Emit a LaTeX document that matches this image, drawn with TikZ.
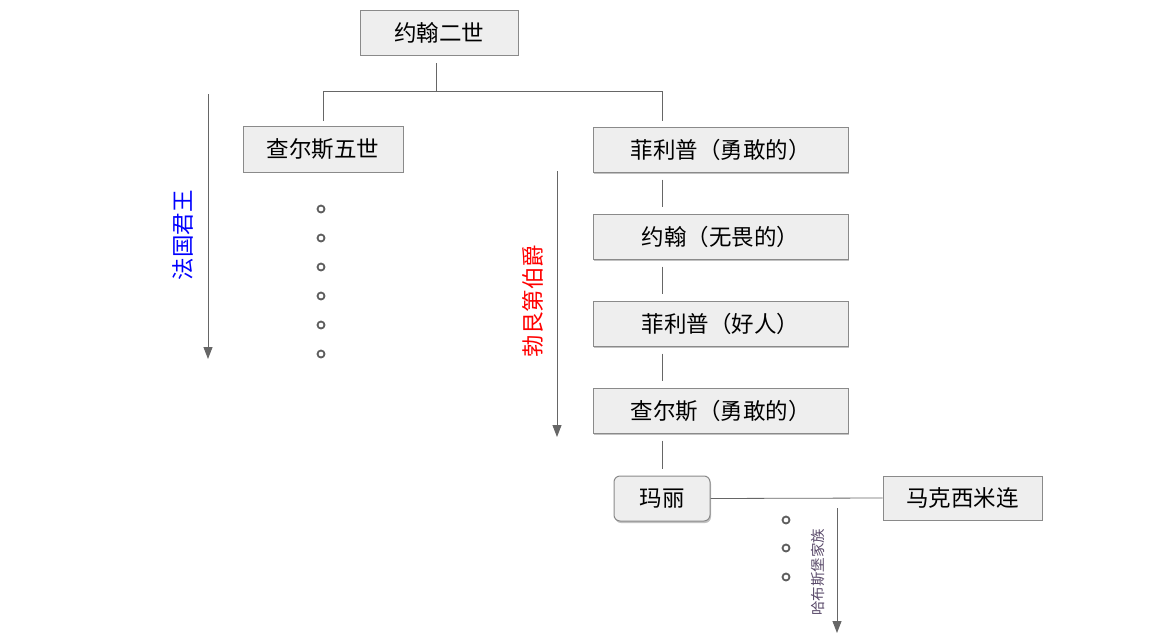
\documentclass[tikz,border=0pt]{standalone}
\usepackage{fontspec}
\setmainfont{Noto Sans CJK SC}
\usetikzlibrary{shadows,arrows.meta}
\definecolor{boxfill}{HTML}{EEEEEE}
\definecolor{boxline}{HTML}{8A8A8A}
\definecolor{linec}{HTML}{666666}
\definecolor{dotc}{HTML}{5E5E5E}
\definecolor{habsc}{HTML}{5A4A6A}
\tikzset{
  pbox/.style={draw=boxline, line width=1pt, fill=boxfill, minimum height=45pt, inner sep=0pt, font=\fontsize{22.5}{26}\selectfont},
  shbox/.style={pbox, drop shadow={shadow xshift=1pt, shadow yshift=-2pt, opacity=0.4, fill=black!60}},
  conn/.style={draw=linec, line width=0.8pt},
  timearrow/.style={draw=linec, line width=1pt, -{Triangle[length=12pt,width=9pt]}},
  dot/.style={circle, draw=dotc, line width=1.8pt, minimum size=7pt, inner sep=0pt},
}
\begin{document}
\begin{tikzpicture}[x=1pt,y=-1pt]
\useasboundingbox (0,0) rectangle (1152,640);

\node[pbox, minimum width=158pt] (john2) at (439,33) {约翰二世};
\node[pbox, minimum width=160pt, minimum height=46pt] (charles5) at (323,149) {查尔斯五世};
\node[shbox, minimum width=255pt] (phil1) at (720.5,149.5) {菲利普（勇敢的）};
\node[shbox, minimum width=255pt] (john) at (720.5,236.5) {约翰（无畏的）};
\node[shbox, minimum width=255pt] (phil2) at (720.5,323.5) {菲利普（好人）};
\node[shbox, minimum width=255pt] (charles) at (720.5,410.5) {查尔斯（勇敢的）};
\node[shbox, rounded corners=6pt, minimum width=96pt] (mary) at (662,498.5) {玛丽};
\node[pbox, minimum width=159pt, minimum height=44pt] (max) at (962.5,498) {马克西米连};

% tree connector from John II
\coordinate (j0) at (436,63);
\coordinate (j1) at (436,91);
\coordinate (jl) at (323,91);
\coordinate (jr) at (662,91);
\coordinate (cl) at (323,121);
\coordinate (cr) at (662,121);
\draw[conn] (j0) -- (j1);
\draw[conn] (cl) -- (jl) -- (jr) -- (cr);

% chain of Burgundy (gapped connectors)
\foreach \a/\b in {phil1/john, john/phil2, phil2/charles, charles/mary}{
  \draw[conn] ([yshift=-7pt]\a.south -| 662,0) -- ([yshift=7pt]\b.north -| 662,0);
}

% marriage line
\draw[conn] (mary.east) -- (max.west);

% dots under Charles V
\foreach \i/\y in {1/209,2/238,3/267,4/296,5/325,6/354}{
  \node[dot] (d\i) at (321,\y) {};
}
% dots under Habsburg
\foreach \i/\y in {1/520,2/548,3/577}{
  \node[dot] (h\i) at (786,\y) {};
}

% time arrows
\coordinate (fa) at (208,94);
\coordinate (fb) at (208,359);
\draw[timearrow] (fa) -- (fb);
\node[rotate=90, text=blue, font=\fontsize{22.5}{26}\selectfont] (lfr) at (183,235) {法国君王};

\coordinate (ba) at (557,171);
\coordinate (bb) at (557,437);
\draw[timearrow] (ba) -- (bb);
\node[rotate=90, text=red, font=\fontsize{22.5}{26}\selectfont] (lbg) at (533,301) {勃艮第伯爵};

\coordinate (ha) at (837,508);
\coordinate (hb) at (837,633);
\draw[timearrow] (ha) -- (hb);
\node[rotate=90, text=habsc, font=\fontsize{14.5}{16}\selectfont] (lhb) at (818,572) {哈布斯堡家族};
\end{tikzpicture}
\end{document}
